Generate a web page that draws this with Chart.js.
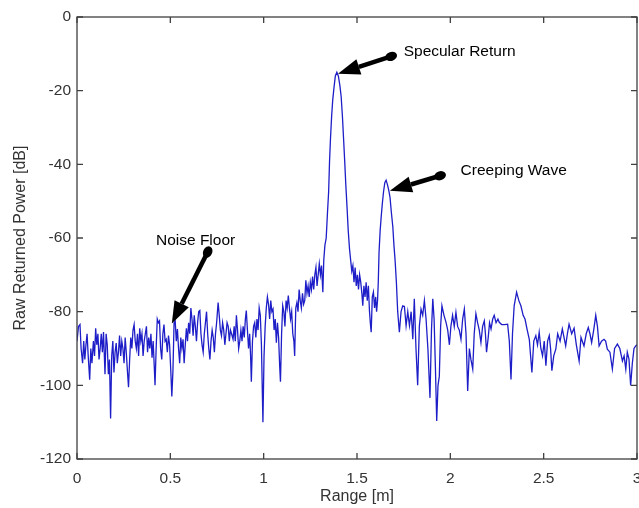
<!DOCTYPE html>
<html>
<head>
<meta charset="utf-8">
<script src="https://cdn.jsdelivr.net/npm/chart.js@4/dist/chart.umd.min.js"></script>
<style>
  body { margin: 0; background: #fff; }
  canvas { display: block; }
</style>
</head>
<body>
<canvas id="radarChart" width="639" height="508"></canvas>
<script>
// valores: alcance (m) e potencia (dB)
const rangeM = [
  0.000, 0.008, 0.016, 0.022, 0.030, 0.036, 0.042, 0.048, 0.054, 0.060,
  0.068, 0.074, 0.080, 0.088, 0.094, 0.100, 0.106, 0.112, 0.118, 0.124,
  0.130, 0.136, 0.142, 0.150, 0.156, 0.162, 0.168, 0.174, 0.180, 0.186,
  0.192, 0.198, 0.204, 0.210, 0.216, 0.222, 0.228, 0.234, 0.240, 0.246,
  0.252, 0.258, 0.264, 0.270, 0.276, 0.282, 0.288, 0.294, 0.300, 0.306,
  0.312, 0.318, 0.324, 0.330, 0.336, 0.342, 0.348, 0.354, 0.360, 0.366,
  0.372, 0.378, 0.384, 0.390, 0.396, 0.402, 0.408, 0.414, 0.418, 0.424,
  0.430, 0.436, 0.442, 0.448, 0.454, 0.460, 0.466, 0.472, 0.478, 0.484,
  0.490, 0.496, 0.502, 0.508, 0.514, 0.520, 0.526, 0.532, 0.538, 0.544,
  0.550, 0.556, 0.562, 0.568, 0.574, 0.580, 0.586, 0.592, 0.598, 0.604,
  0.610, 0.616, 0.622, 0.628, 0.634, 0.640, 0.646, 0.652, 0.658, 0.664,
  0.670, 0.676, 0.682, 0.688, 0.694, 0.700, 0.706, 0.712, 0.718, 0.724,
  0.730, 0.736, 0.742, 0.748, 0.756, 0.762, 0.768, 0.774, 0.780, 0.786,
  0.792, 0.798, 0.804, 0.810, 0.816, 0.822, 0.828, 0.836, 0.842, 0.848,
  0.854, 0.860, 0.866, 0.872, 0.878, 0.884, 0.890, 0.896, 0.902, 0.907,
  0.913, 0.919, 0.925, 0.930, 0.934, 0.940, 0.946, 0.952, 0.958, 0.964,
  0.970, 0.976, 0.982, 0.988, 0.996, 1.002, 1.008, 1.014, 1.020, 1.026,
  1.032, 1.038, 1.044, 1.050, 1.056, 1.062, 1.068, 1.074, 1.080, 1.086,
  1.090, 1.096, 1.102, 1.108, 1.114, 1.120, 1.126, 1.132, 1.138, 1.144,
  1.150, 1.156, 1.162, 1.166, 1.172, 1.178, 1.184, 1.190, 1.196, 1.202,
  1.208, 1.214, 1.220, 1.226, 1.232, 1.238, 1.244, 1.250, 1.256, 1.262,
  1.268, 1.274, 1.280, 1.286, 1.292, 1.298, 1.304, 1.310, 1.317, 1.322,
  1.328, 1.335, 1.342, 1.348, 1.353, 1.358, 1.364, 1.370, 1.376, 1.384,
  1.392, 1.400, 1.408, 1.415, 1.422, 1.428, 1.434, 1.440, 1.447, 1.453,
  1.460, 1.466, 1.472, 1.478, 1.484, 1.490, 1.496, 1.502, 1.508, 1.514,
  1.520, 1.526, 1.531, 1.537, 1.543, 1.549, 1.555, 1.561, 1.567, 1.573,
  1.576, 1.582, 1.588, 1.594, 1.600, 1.605, 1.610, 1.614, 1.618, 1.624,
  1.630, 1.636, 1.642, 1.649, 1.656, 1.663, 1.670, 1.677, 1.684, 1.692,
  1.698, 1.704, 1.711, 1.718, 1.727, 1.736, 1.745, 1.754, 1.763, 1.772,
  1.781, 1.790, 1.799, 1.807, 1.816, 1.825, 1.834, 1.843, 1.852, 1.861,
  1.870, 1.880, 1.891, 1.899, 1.906, 1.913, 1.920, 1.927, 1.934, 1.941,
  1.948, 1.955, 1.966, 1.977, 1.986, 1.995, 2.003, 2.012, 2.021, 2.030,
  2.039, 2.048, 2.057, 2.066, 2.075, 2.084, 2.093, 2.102, 2.110, 2.120,
  2.128, 2.137, 2.146, 2.155, 2.164, 2.173, 2.182, 2.188, 2.194, 2.203,
  2.210, 2.218, 2.227, 2.235, 2.245, 2.255, 2.262, 2.275, 2.290, 2.307,
  2.316, 2.325, 2.333, 2.342, 2.355, 2.367, 2.378, 2.390, 2.400, 2.412,
  2.423, 2.430, 2.437, 2.447, 2.458, 2.467, 2.476, 2.485, 2.494, 2.503,
  2.512, 2.521, 2.530, 2.537, 2.544, 2.554, 2.565, 2.575, 2.588, 2.600,
  2.609, 2.618, 2.627, 2.636, 2.650, 2.663, 2.675, 2.690, 2.700, 2.716,
  2.728, 2.739, 2.748, 2.757, 2.768, 2.779, 2.788, 2.797, 2.810, 2.823,
  2.832, 2.841, 2.855, 2.868, 2.880, 2.895, 2.908, 2.922, 2.931, 2.940,
  2.948, 2.957, 2.966, 2.975, 2.984, 2.993, 3.000
];
const powerDb = [
  -88, -84, -83.5, -90, -94, -88, -93, -89, -86, -92,
  -98.5, -90, -94, -88, -92, -84.5, -89, -86, -93, -90,
  -86, -91, -85.5, -97, -86, -89, -97, -93, -109, -92,
  -88, -96.5, -91, -88.5, -94, -91, -86.5, -92, -88, -90,
  -94, -87, -91, -96, -100.5, -93, -87, -90, -85, -83.5,
  -88, -90, -86, -92, -84.5, -88, -86, -92, -88, -86,
  -84, -91, -87, -90, -86, -92.5, -88, -95, -100, -90,
  -82, -83, -82.5, -90, -93, -86, -83.5, -88, -87.5, -91,
  -86.5, -89, -95.5, -103, -96, -83, -82.5, -88, -84.7, -90,
  -94, -87, -90, -87.5, -94, -89, -84.5, -88, -83, -86,
  -79, -82, -86.5, -81, -84, -88, -83, -80, -79.7, -86,
  -89, -91, -86, -83, -80, -86, -90, -93, -88, -85,
  -87, -91, -86, -83, -77.5, -81, -85, -86.5, -83, -85,
  -89, -86, -83, -84, -88, -85, -86, -87.5, -84, -88,
  -81, -85, -90, -88, -85, -88, -84, -87, -82, -79.7,
  -85, -90, -86, -92, -99, -88, -84, -83, -87, -82,
  -85, -79, -81, -89, -110, -92, -84, -79, -76, -78,
  -82, -77, -80, -79.3, -85, -82, -88.4, -83, -87, -95,
  -99, -86, -78.4, -80, -84, -77, -79, -75.6, -79, -82,
  -80, -86, -88, -92, -79, -77.5, -80, -74, -77, -79,
  -75, -78, -77, -71.5, -75, -73, -76, -72, -74, -70.5,
  -74, -70, -68, -73, -70, -67, -70, -67.5, -74.7, -66,
  -62, -60, -53, -47.5, -39, -33, -27, -22.5, -19.5, -16,
  -15, -16, -18.5, -21.5, -27, -33, -39, -45.5, -52, -58,
  -63, -66, -69, -67.5, -72, -68, -73, -70, -74, -70,
  -72, -75, -78.4, -73, -76, -72, -77, -73, -80, -84,
  -85.6, -76, -74.7, -79, -76, -80, -77, -72, -64, -58,
  -54, -50.5, -47.5, -45, -44.3, -45.5, -47, -49, -53, -57,
  -62, -66, -72, -80, -85.6, -80, -78.4, -78.6, -83.8, -80,
  -83.8, -80, -87.5, -76.5, -90, -100, -84, -79.3, -81, -77,
  -82, -90.2, -103.4, -85, -76.5, -82, -95, -109.7, -100, -97.5,
  -84, -78.4, -81, -82.9, -85, -89, -84, -81, -84, -80.2,
  -84, -85, -87.5, -82, -79.3, -86, -101.5, -90, -92.9, -95.6,
  -86, -80.6, -83, -85, -88.4, -84, -82.5, -86, -91, -87,
  -83, -84.7, -82, -81, -83, -82, -82.9, -83.5, -83.5, -83.4,
  -88, -98.4, -86, -78.4, -74.7, -77, -78.4, -81, -82, -85,
  -87.5, -92, -96.5, -88, -86.5, -89, -85.6, -90, -92, -88,
  -94.7, -88, -86.5, -90, -96, -92, -90.2, -86, -88, -84.7,
  -87, -89.3, -86, -83.4, -86, -84.5, -89, -93.4, -87, -89.3,
  -86, -84.3, -86, -88.4, -85, -81, -84, -89.3, -88, -87.5,
  -88, -90.2, -91, -95.6, -90, -88.8, -90, -93.4, -92, -95.6,
  -91, -92.9, -100, -94, -90, -89.3, -89
];

// setas: texto, posicao do texto, cauda e ponta (em unidades dos eixos)
const noteLabels = ['Specular Return', 'Creeping Wave', 'Noise Floor'];
const noteTextX = [1.75, 2.055, 0.423];
const noteTextY = [-9.4, -41.7, -60.8];
const noteTailX = [1.683, 1.945, 0.70];
const noteTailY = [-10.7, -43.1, -63.8];
const noteHeadX = [1.398, 1.676, 0.508];
const noteHeadY = [-15.4, -47.2, -83.2];

const xTickStep = 0.5;
const yTickStep = 20;

// moldura estilo matlab com ticks para dentro
const frameTicks = {
  id: 'frameTicks',
  afterDraw(chart) {
    const { ctx, chartArea: a, scales: { x, y } } = chart;
    ctx.save();
    ctx.strokeStyle = '#404040';
    ctx.lineWidth = 1.3;
    ctx.strokeRect(a.left, a.top, a.right - a.left, a.bottom - a.top);
    ctx.beginPath();
    x.ticks.forEach(t => {
      const px = x.getPixelForValue(t.value);
      ctx.moveTo(px, a.bottom); ctx.lineTo(px, a.bottom - 6);
      ctx.moveTo(px, a.top); ctx.lineTo(px, a.top + 6);
    });
    y.ticks.forEach(t => {
      const py = y.getPixelForValue(t.value);
      ctx.moveTo(a.left, py); ctx.lineTo(a.left + 6, py);
      ctx.moveTo(a.right, py); ctx.lineTo(a.right - 6, py);
    });
    ctx.stroke();
    ctx.restore();
  }
};

function drawArrow(ctx, tx, ty, hx, hy) {
  const ang = Math.atan2(hy - ty, hx - tx);
  const headLen = 22, headW = 8;
  const bx = hx - headLen * Math.cos(ang);
  const by = hy - headLen * Math.sin(ang);
  ctx.lineWidth = 4.5;
  ctx.beginPath();
  ctx.moveTo(tx, ty);
  ctx.lineTo(bx, by);
  ctx.stroke();
  ctx.beginPath();
  ctx.moveTo(hx, hy);
  ctx.lineTo(bx + headW * Math.sin(ang), by - headW * Math.cos(ang));
  ctx.lineTo(bx - headW * Math.sin(ang), by + headW * Math.cos(ang));
  ctx.closePath();
  ctx.fill();
  ctx.beginPath();
  ctx.ellipse(tx, ty, 6, 4.5, ang, 0, Math.PI * 2);
  ctx.fill();
}

const arrowNotes = {
  id: 'arrowNotes',
  afterDatasetsDraw(chart) {
    const { ctx, scales: { x, y } } = chart;
    ctx.save();
    ctx.fillStyle = '#000';
    ctx.strokeStyle = '#000';
    noteLabels.forEach((txt, i) => {
      drawArrow(ctx,
        x.getPixelForValue(noteTailX[i]), y.getPixelForValue(noteTailY[i]),
        x.getPixelForValue(noteHeadX[i]), y.getPixelForValue(noteHeadY[i]));
      ctx.font = '15.5px "Liberation Sans", Arial, sans-serif';
      ctx.textAlign = 'left';
      ctx.textBaseline = 'middle';
      ctx.fillText(txt, x.getPixelForValue(noteTextX[i]), y.getPixelForValue(noteTextY[i]));
    });
    ctx.restore();
  }
};

const tickFont = { family: '"Liberation Sans", Arial, sans-serif', size: 15.5 };
const titleFont = { family: '"Liberation Sans", Arial, sans-serif', size: 16 };

new Chart(document.getElementById('radarChart'), {
  type: 'line',
  data: {
    datasets: [{
      label: 'Raw Returned Power',
      data: rangeM.map((r, i) => ({ x: r, y: powerDb[i] })),
      borderColor: 'rgb(30, 30, 200)',
      borderWidth: 1.3,
      pointRadius: 0,
      tension: 0,
      fill: false
    }]
  },
  options: {
    responsive: false,
    animation: false,
    layout: { padding: { top: 17, right: 2, left: 0, bottom: 0 } },
    plugins: { legend: { display: false }, tooltip: { enabled: false } },
    scales: {
      x: {
        type: 'linear',
        min: 0, max: 3,
        grid: { display: false, drawTicks: false },
        border: { display: false },
        ticks: { stepSize: xTickStep, padding: 10, color: '#333', font: tickFont, maxRotation: 0,
                 callback: v => String(v) },
        title: { display: true, text: 'Range [m]', color: '#333', font: titleFont, padding: { top: 0, bottom: 2 } },
        afterFit(s) { s.height = 49; s.paddingLeft = 0; s.paddingRight = 0; }
      },
      y: {
        min: -120, max: 0,
        grid: { display: false, drawTicks: false },
        border: { display: false },
        ticks: { stepSize: yTickStep, padding: 6, color: '#333', font: tickFont },
        title: { display: true, text: 'Raw Returned Power [dB]', color: '#333', font: titleFont, padding: { top: 11, bottom: 0 } },
        afterFit(s) { s.width = 77; s.paddingTop = 0; s.paddingBottom = 0; }
      }
    }
  },
  plugins: [frameTicks, arrowNotes]
});
</script>
</body>
</html>
